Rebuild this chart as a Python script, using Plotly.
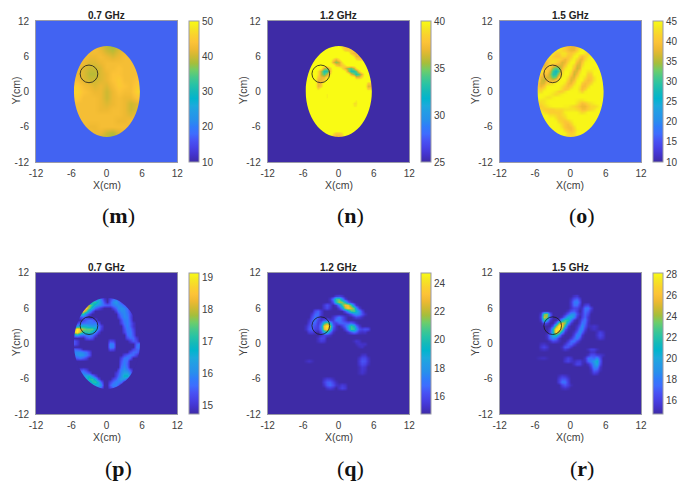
import plotly.graph_objects as go

# coarse grid (1 cm) for the smooth 0.7 GHz map, rows run from y=8 down to y=-8
X_COARSE = [-7, -6, -5, -4, -3, -2, -1, 0, 1, 2, 3, 4, 5, 6, 7]
Y_COARSE = [8, 7, 6, 5, 4, 3, 2, 1, 0, -1, -2, -3, -4, -5, -6, -7, -8]
# fine grid (0.5 cm) for the others
X_FINE = [v / 2 for v in range(-14, 15)]
Y_FINE = [v / 2 for v in range(16, -17, -1)]

Z_M = [
    [43, 43, 43, 43, 43, 43, 41, 39, 38, 39, 41, 43, 43, 43, 43],
    [43, 43, 43, 43, 43, 43, 42, 40, 39, 41, 42, 43, 43, 43, 43],
    [43, 43, 43, 43, 42, 42, 43, 42, 41, 42, 43, 43, 43, 43, 43],
    [43, 43, 43, 42, 41, 41, 42, 43, 43, 43, 43, 43, 43, 43, 43],
    [43, 43, 42, 41, 40, 40, 41, 43, 43, 44, 43, 43, 43, 43, 43],
    [43, 43, 42, 41, 39, 39, 41, 42, 44, 44, 43, 43, 43, 43, 43],
    [43, 43, 43, 41, 40, 40, 41, 42, 44, 45, 43, 43, 44, 44, 44],
    [45, 45, 45, 43, 42, 41, 42, 41, 43, 45, 44, 43, 45, 46, 46],
    [46, 46, 46, 44, 43, 42, 42, 40, 42, 44, 43, 43, 46, 47, 47],
    [45, 45, 45, 43, 43, 43, 42, 40, 42, 43, 42, 42, 44, 45, 45],
    [43, 43, 43, 43, 43, 43, 42, 41, 42, 43, 42, 40, 41, 42, 42],
    [43, 43, 43, 43, 43, 43, 42, 42, 43, 43, 42, 40, 41, 42, 42],
    [43, 43, 43, 43, 43, 43, 43, 43, 43, 43, 42, 41, 42, 42, 42],
    [43, 43, 43, 43, 43, 43, 43, 43, 43, 42, 42, 43, 43, 43, 43],
    [43, 43, 43, 43, 42, 42, 43, 43, 43, 43, 43, 42, 43, 43, 43],
    [43, 43, 43, 43, 43, 42, 42, 40, 39, 41, 42, 43, 43, 43, 43],
    [43, 43, 43, 43, 43, 42, 40, 39, 38, 39, 41, 43, 43, 43, 43],
]

# the maps below are mostly flat: {y: [(first x, [values every 0.5 cm]), ...]}
BASE_N = 41
ROWS_N = {
    7.5: [(0.5, [39, 38, 38, 39])],
    7.0: [(0.5, [40, 38.5, 38, 38, 38])],
    6.5: [(2.0, [38, 37, 37, 39])],
    6.0: [(2.5, [39, 37, 37, 38])],
    5.5: [(-1.0, [39, 37, 39]), (3.0, [39, 38, 38])],
    5.0: [(-1.0, [37, 35, 36, 39])],
    4.5: [(-0.5, [38, 37, 38, 39])],
    4.0: [(-3.0, [40, 36, 35, 38]), (0.5, [39, 37, 35, 34, 36, 39])],
    3.5: [(-3.5, [39, 36, 33, 33, 37]), (1.0, [40, 36, 33, 33, 34, 38])],
    3.0: [(-3.5, [39, 36, 34, 36, 39]), (2.0, [37, 35, 33, 34, 37])],
    2.5: [(-3.5, [38, 37, 37, 39]), (3.0, [37, 37, 39])],
    2.0: [(-3.5, [37, 37, 38])],
    1.5: [(-3.5, [37, 37.5]), (5.0, [38, 38])],
    1.0: [(-3.5, [37, 38]), (5.0, [36.5, 37])],
    0.5: [(-3.5, [39]), (5.0, [38.5, 39])],
    -0.5: [(-2.0, [39.5])],
    -1.0: [(-2.0, [39.5])],
    -1.5: [(3.0, [39.5])],
    -2.0: [(2.5, [39, 39])],
    -2.5: [(2.5, [39.5, 39.5])],
    -7.0: [(-1.0, [39.5, 38, 38, 39])],
    -7.5: [(-1.0, [38, 37, 37, 38])],
    -8.0: [(-1.0, [38, 37, 37, 38])],
}

BASE_O = 44.5
ROWS_O = {
    8.0: [(-1.0, [40, 39, 38, 38, 40])],
    7.5: [(-1.5, [43, 41, 39, 38, 38, 40, 43])],
    7.0: [(-2.5, [43, 43, 42, 41, 39, 38, 38, 41, 44])],
    6.5: [(-3.0, [43, 41, 41, 43, 43, 41, 40, 42, 44]), (2.5, [43, 41, 42])],
    6.0: [(-3.5, [43, 41, 40, 40, 42, 42, 40, 41, 44]), (1.5, [41, 39, 41, 43])],
    5.5: [(-4.0, [41, 42, 42, 42, 42, 40, 38, 40, 43]), (1.0, [42, 38, 38, 42, 44])],
    5.0: [(-4.5, [38, 39, 42, 43, 42, 40, 37, 38, 42]), (1.0, [39, 37, 40, 44])],
    4.5: [(-5.0, [40, 37, 39, 42, 39, 37, 37, 37, 40, 44]), (0.5, [42, 37, 37, 42])],
    4.0: [(-5.0, [41, 39, 40, 40, 34, 31, 33, 38, 43]), (0.5, [40, 36, 38, 44]), (4.0, [44])],
    3.5: [(-4.5, [41, 41, 37, 30, 27, 31, 41]), (0.0, [43, 37, 37, 42]), (3.0, [43, 43])],
    3.0: [(-5.0, [41, 39, 39, 35, 29, 29, 36, 43]), (0.0, [41, 36, 39, 44]), (3.0, [41, 41])],
    2.5: [(-5.0, [38, 37, 37, 36, 32, 33, 41]), (-0.5, [43, 38, 37, 42]), (2.5, [43, 40, 40, 43])],
    2.0: [(-5.0, [37, 36, 38, 38, 37, 40, 44]), (-0.5, [41, 37, 39, 44]), (2.5, [41, 39, 40, 43])],
    1.5: [(-5.5, [40, 37, 37, 41, 42, 43]), (-1.0, [43, 39, 38, 42]), (2.0, [41, 39, 40, 42])],
    1.0: [(-5.5, [40, 38, 40, 44]), (-1.5, [43, 41, 39, 41, 44]), (1.5, [43, 39, 39, 42])],
    0.5: [(-5.5, [42, 41, 43]), (-2.0, [44, 42, 40, 41, 44]), (1.5, [42, 39, 41])],
    0.0: [(-5.5, [43, 42]), (-3.0, [44, 43, 41, 41, 43]), (1.5, [43, 41, 44])],
    -0.5: [(-3.5, [44, 43, 42, 43, 44])],
    -1.0: [(-4.5, [44, 43, 43, 44])],
    -1.5: [(-5.5, [44, 43, 43, 44]), (1.0, [44, 43, 43, 44])],
    -2.0: [(-5.5, [42, 42, 43, 44]), (1.0, [43, 41, 39, 40, 42, 43, 44])],
    -2.5: [(-5.5, [41, 41, 42, 43, 44]), (-1.0, [44, 44, 43, 42, 41, 39, 38, 38, 40, 42, 42, 43])],
    -3.0: [(-5.0, [42, 41, 41, 41, 41, 42, 42, 42, 43, 43, 43, 43, 42, 41, 39, 39, 41, 42, 43])],
    -3.5: [(-4.5, [43, 42, 41, 41, 41, 41, 42, 44]), (1.5, [43, 42, 43])],
    -4.0: [(-3.5, [43, 43, 42, 41, 42, 43])],
    -4.5: [(-2.5, [43, 41, 41, 42, 44])],
    -5.0: [(-2.0, [42, 41, 40, 41, 43])],
    -5.5: [(-2.0, [44, 42, 40, 39, 41, 44])],
    -6.0: [(-1.5, [43, 40, 39, 39, 42])],
    -6.5: [(-1.0, [42, 40, 39, 41, 44])],
    -7.0: [(-0.5, [42, 41, 42])],
    -7.5: [(-1.0, [43, 42, 42, 42, 43])],
}

BASE_LOW = 14.75
ROWS_P = {
    7.5: [(-1.5, [16.5, 15.7, 15.0]), (0.5, [15.2, 15.6, 15.8, 15.4])],
    7.0: [(-2.5, [17.0, 17.2, 16.6, 16.0, 15.3]), (0.5, [15.4, 16.0, 16.2, 15.9, 15.3])],
    6.5: [(-3.5, [18.2, 17.9, 17.2, 16.5, 16.2, 15.9, 15.6, 15.5, 15.5, 15.8, 16.0, 16.0, 15.9, 15.5, 15.0])],
    6.0: [(-4.0, [18.6, 18.6, 17.6, 16.5, 15.7, 15.3, 15.0]), (1.0, [15.2, 15.6, 16.0, 16.1, 16.0, 15.6, 15.1])],
    5.5: [(-4.5, [18.3, 18.6, 17.6, 16.2, 15.4]), (1.5, [15.2, 15.7, 16.0, 16.0, 15.7, 15.2])],
    5.0: [(-5.0, [15.5, 16.8, 17.0, 15.8, 15.2]), (2.0, [15.3, 15.8, 16.0, 15.8, 15.3])],
    4.5: [(-4.5, [15.3, 15.5, 15.2]), (2.0, [15.1, 15.6, 16.0, 15.9, 15.3])],
    4.0: [(-4.0, [15.2, 15.5, 15.7, 15.6, 15.2]), (2.5, [15.3, 15.8, 15.9, 15.4])],
    3.5: [(-5.0, [15.2, 15.5, 15.6, 15.7, 15.8, 15.7, 15.8, 15.4]), (2.5, [15.2, 15.7, 15.9, 15.5, 15.0])],
    3.0: [(-5.5, [15.6, 16.0, 16.5, 16.7, 16.6, 16.3, 16.2, 16.3, 15.8, 15.2]), (3.0, [15.5, 15.9, 15.5, 15.0])],
    2.5: [(-5.5, [18.0, 19.1, 18.5, 17.8, 17.5, 17.5, 17.5, 16.8, 15.8, 15.1]), (3.0, [15.3, 15.8, 15.7, 15.2])],
    2.0: [(-5.5, [18.5, 19.1, 18.0, 17.0, 17.2, 17.3, 16.7, 15.9, 15.2]), (3.0, [15.2, 15.7, 15.8, 15.3])],
    1.5: [(-5.5, [16.0, 16.5, 15.8, 15.6, 15.8, 15.9, 15.7, 15.2]), (3.5, [15.6, 15.8, 15.4])],
    1.0: [(-3.5, [15.3, 15.5, 15.3]), (3.5, [15.3, 15.6, 15.6, 15.1])],
    0.5: [(-6.0, [15.4, 15.4, 15.1]), (0.5, [15.3, 15.2]), (4.0, [15.1, 15.5, 15.3])],
    0.0: [(-6.0, [15.4, 15.4, 15.1]), (0.5, [15.9, 15.8]), (5.0, [15.5, 15.8, 15.7])],
    -0.5: [(0.5, [15.9, 15.8]), (5.0, [15.6, 15.8, 15.7])],
    -1.0: [(-5.5, [15.5, 15.4, 15.2]), (0.5, [15.4, 15.3]), (4.5, [15.2, 15.5, 15.6, 15.5])],
    -1.5: [(-5.5, [15.9, 16.0, 16.0, 15.9, 15.7, 15.3]), (4.0, [15.3, 15.6, 15.6, 15.3])],
    -2.0: [(-5.5, [15.9, 16.0, 16.2, 16.1, 15.8, 15.4]), (3.0, [15.2, 15.5, 15.7, 15.6, 15.2])],
    -2.5: [(-5.5, [15.3, 15.5, 15.7, 15.5, 15.2]), (2.5, [15.2, 15.7, 15.8, 15.5])],
    -3.0: [(2.5, [15.4, 15.8, 15.6])],
    -3.5: [(2.5, [15.5, 15.9, 15.5])],
    -4.0: [(2.5, [15.7, 16.0, 15.6])],
    -4.5: [(-4.5, [15.3, 15.5, 15.2]), (2.0, [15.2, 15.9, 16.1, 15.9, 15.4])],
    -5.0: [(-4.5, [15.8, 15.9, 15.7, 15.4]), (1.5, [15.1, 15.4, 16.0, 16.4, 16.4, 15.8])],
    -5.5: [(-4.5, [15.6, 16.1, 16.5, 16.7, 16.0, 15.2]), (1.5, [15.2, 15.6, 16.1, 16.8, 16.8, 15.9])],
    -6.0: [(-4.0, [15.6, 16.4, 17.1, 17.2, 16.5, 15.3]), (1.0, [15.2, 15.5, 15.9, 16.3, 16.2, 15.5])],
    -6.5: [(-3.0, [16.3, 17.0, 17.2, 16.6, 15.5]), (0.5, [15.2, 15.6, 15.9, 15.9, 15.7])],
    -7.0: [(-2.5, [16.0, 16.5, 16.5, 16.0]), (0.5, [15.5, 15.9, 15.9, 15.5])],
    -7.5: [(-2.0, [15.8, 15.8, 15.4]), (0.5, [15.2, 15.5, 15.4])],
}
ROWS_Q = {
    8.0: [(-0.5, [15.3, 15.5, 15.2])],
    7.5: [(-1.5, [15.2, 17.0, 20.5, 21.0, 18.0, 15.5])],
    7.0: [(-1.5, [15.0, 16.0, 20.0, 22.0, 21.5, 19.5, 16.5, 15.2])],
    6.5: [(-2.5, [15.4, 16.2, 15.5]), (-0.5, [15.3, 17.5, 20.5, 23.0, 23.0, 20.5, 17.0, 15.2])],
    6.0: [(-2.5, [15.4, 16.0, 15.3]), (0.0, [15.6, 18.0, 22.0, 23.5, 22.5, 21.0, 18.0, 15.5])],
    5.5: [(-4.0, [16.0, 16.6, 15.5]), (1.0, [16.0, 18.0, 20.5, 21.0, 19.5, 17.8, 15.8])],
    5.0: [(-4.5, [15.4, 16.6, 16.8, 15.5]), (1.5, [15.2, 16.0, 17.2, 18.0, 17.5, 16.2, 15.2])],
    4.5: [(-4.5, [16.0, 17.0, 16.5, 15.2]), (-1.0, [15.3, 16.2, 17.0, 16.2, 15.3]), (2.5, [15.3, 15.8, 15.6, 15.1])],
    4.0: [(-5.0, [15.2, 16.4, 17.0, 15.8]), (-3.0, [15.3, 16.0, 16.2, 15.3]), (-1.0, [15.5, 17.0, 17.2, 16.3, 15.5])],
    3.5: [(-5.0, [15.6, 16.6, 16.6, 15.5]), (-3.0, [16.5, 20.0, 21.5, 19.0, 16.0]),
          (-0.5, [15.6, 16.5, 16.6, 16.5, 16.3, 16.6, 15.9, 15.2])],
    3.0: [(-5.5, [15.1, 16.0, 16.6, 16.1, 15.6]), (-3.0, [17.5, 23.0, 24.7, 22.0, 16.5, 15.2]),
          (0.5, [15.5, 16.5, 18.0, 20.5, 19.5, 17.0, 15.5])],
    2.5: [(-5.5, [15.2, 16.3, 16.6, 15.7, 15.6]), (-3.0, [17.0, 22.5, 24.0, 20.5, 16.0, 15.1]),
          (1.0, [15.6, 17.5, 20.8, 20.5, 18.3, 16.2, 15.8, 16.2, 16.0])],
    2.0: [(-5.0, [15.6, 15.7, 15.2]), (-3.0, [15.8, 18.5, 19.5, 17.0, 15.2]),
          (1.5, [15.3, 16.2, 17.0, 16.5, 15.4, 15.2, 15.3])],
    1.5: [(-3.0, [15.3, 15.8, 15.6, 15.2])],
    1.0: [(-3.5, [15.2, 15.9, 15.8])],
    0.5: [(-3.5, [15.1, 15.6, 15.4]), (2.5, [15.0, 15.4, 15.2])],
    0.0: [(3.0, [15.0, 15.3, 15.2, 15.2])],
    -0.5: [(3.5, [15.0, 15.2])],
    -2.0: [(4.0, [15.2, 15.3])],
    -2.5: [(3.5, [15.2, 15.9, 15.9, 15.2])],
    -3.0: [(-5.5, [15.0, 15.3, 15.0]), (3.5, [15.4, 16.3, 16.2, 15.3])],
    -3.5: [(3.5, [15.3, 16.0, 15.8, 15.1])],
    -4.0: [(3.5, [15.0, 15.5, 15.3])],
    -4.5: [(3.5, [15.0, 15.4, 15.2])],
    -5.0: [(3.5, [15.0, 15.3, 15.0])],
    -6.0: [(-2.5, [15.2, 15.6, 15.5, 15.1])],
    -6.5: [(-2.5, [15.6, 16.4, 16.5, 15.8, 15.1])],
    -7.0: [(-2.5, [15.3, 16.3, 16.7, 16.2, 15.3]), (0.0, [15.1, 15.5, 15.3])],
    -7.5: [(-2.0, [15.3, 15.6, 15.3]), (0.0, [15.3, 15.8, 15.5])],
}
ROWS_R = {
    8.0: [(0.5, [15.3, 15.6])],
    7.5: [(0.0, [15.3, 16.6, 17.2, 15.8])],
    7.0: [(0.0, [15.6, 17.8, 18.3, 16.5])],
    6.5: [(0.0, [15.5, 17.5, 17.5, 15.8]), (2.5, [15.8, 16.2])],
    6.0: [(0.0, [15.4, 16.3, 16.2, 15.2]), (2.0, [15.3, 17.5, 17.8, 16.0])],
    5.5: [(-0.5, [15.3, 16.5, 17.0, 16.0]), (2.0, [15.6, 17.5, 17.0, 15.3])],
    5.0: [(-5.0, [15.5, 23.0, 24.5, 17.0]), (-1.0, [15.4, 17.0, 18.8, 19.0, 16.5, 15.2]), (2.0, [15.7, 17.3, 16.3])],
    4.5: [(-5.0, [16.0, 25.0, 24.0, 17.0]), (-1.5, [15.3, 17.5, 20.0, 20.5, 18.5, 15.8]), (2.0, [16.0, 17.2, 15.6])],
    4.0: [(-5.0, [15.5, 22.0, 19.5, 15.6]), (-2.0, [16.0, 19.5, 22.5, 22.0, 18.0, 15.5]), (1.5, [15.4, 16.8, 17.8, 15.6])],
    3.5: [(-4.5, [16.5, 15.8]), (-2.5, [17.0, 23.5, 25.5, 24.0, 19.0, 15.7]), (1.5, [15.8, 17.8, 17.4, 15.3])],
    3.0: [(-3.0, [16.5, 23.0, 28.0, 27.0, 21.0, 16.0]), (1.0, [15.3, 16.8, 18.7, 16.8, 15.2]), (3.5, [15.2, 15.5, 15.2])],
    2.5: [(-3.5, [15.8, 21.0, 27.5, 28.0, 24.0, 17.0, 15.2]), (1.0, [15.7, 18.0, 18.5, 16.0]), (3.5, [15.1, 15.4, 15.1])],
    2.0: [(-3.5, [16.3, 21.0, 27.5, 24.5, 19.0, 15.5]), (0.5, [15.3, 16.8, 18.8, 17.2, 15.2]), (4.5, [15.2, 16.0, 15.4])],
    1.5: [(-4.0, [15.3, 17.5, 20.5, 22.0, 18.5, 15.5]), (0.5, [16.0, 18.3, 18.0, 15.6]), (4.5, [15.4, 16.3, 15.7])],
    1.0: [(-4.0, [15.2, 17.3, 18.8, 17.8, 15.6]), (0.0, [15.5, 17.0, 18.3, 16.5, 15.1]), (4.5, [15.1, 15.8, 15.4])],
    0.5: [(-3.5, [15.3, 16.3, 16.0, 15.2]), (-0.5, [15.6, 17.3, 17.8, 16.3, 15.1])],
    0.0: [(-5.0, [15.2, 15.4, 15.0]), (-1.0, [15.5, 16.8, 17.3, 16.0, 15.0])],
    -0.5: [(-5.0, [15.6, 16.2, 15.6]), (-1.5, [15.2, 16.8, 16.8, 15.6])],
    -1.0: [(-5.0, [15.2, 15.5, 15.2]), (-1.5, [15.0, 15.8, 15.3]), (3.0, [15.2, 16.0, 15.9, 15.2])],
    -1.5: [(3.5, [15.4, 15.4])],
    -2.0: [(3.0, [15.3, 16.5, 16.5, 15.8, 15.6, 15.2])],
    -2.5: [(-5.5, [15.0, 15.2, 15.3, 15.0]), (-1.0, [15.3, 16.0, 15.5]), (2.5, [15.3, 17.5, 17.7, 17.2, 18.7, 16.5])],
    -3.0: [(-1.0, [15.6, 16.2, 15.5]), (0.5, [15.2, 15.7, 15.9, 15.2]), (2.5, [15.2, 17.2, 18.2, 19.2, 20.8, 17.0])],
    -3.5: [(0.5, [15.3, 16.2, 16.1, 15.2]), (3.0, [15.3, 16.7, 18.7, 20.2, 16.5])],
    -4.0: [(3.5, [15.8, 18.2, 18.4, 15.5])],
    -4.5: [(3.5, [15.2, 17.2, 16.8, 15.2])],
    -5.0: [(3.5, [15.0, 16.0, 15.6])],
    -5.5: [(-2.0, [15.2, 15.8, 15.6, 15.1])],
    -6.0: [(-2.0, [15.8, 16.8, 16.8, 15.7])],
    -6.5: [(-2.0, [15.9, 17.7, 17.7, 16.0])],
    -7.0: [(-1.5, [16.0, 16.8, 16.0, 15.1])],
    -7.5: [(-1.5, [15.2, 15.5, 15.2])],
}

TITLES = ["0.7 GHz", "1.2 GHz", "1.5 GHz", "0.7 GHz", "1.2 GHz", "1.5 GHz"]
LABELS = ["(<b>m</b>)", "(<b>n</b>)", "(<b>o</b>)", "(<b>p</b>)", "(<b>q</b>)", "(<b>r</b>)"]
RANGES = [(10, 50), (25, 40), (10, 45), (14.75, 19.15), (14.75, 24.75), (14.75, 28.15)]
CB_TICKS = [
    [10, 20, 30, 40, 50],
    [25, 30, 35, 40],
    [10, 15, 20, 25, 30, 35, 40, 45],
    [15, 16, 17, 18, 19],
    [16, 18, 20, 22, 24],
    [16, 18, 20, 22, 24, 26, 28],
]
BACKGROUNDS = ["#4263f2", "#3e2ba6", "#4263f2", "#3e2ba6", "#3e2ba6", "#3e2ba6"]
TICKS = [-12, -6, 0, 6, 12]
TICK_TEXT = ["-12", "-6", "0", "6", "12"]

PARULA = [
    [0.00, "#3e2ba6"], [0.05, "#4333cb"], [0.10, "#4741e5"], [0.15, "#4852f4"],
    [0.20, "#3e6dfe"], [0.25, "#307cfa"], [0.30, "#2791eb"], [0.35, "#249be6"],
    [0.40, "#1caadc"], [0.45, "#02b4cd"], [0.50, "#14b9b9"], [0.55, "#28c3a5"],
    [0.60, "#46c88c"], [0.65, "#6ecd69"], [0.70, "#a5be3c"], [0.75, "#cdb932"],
    [0.80, "#eeb932"], [0.85, "#fcc337"], [0.90, "#fad22d"], [0.95, "#f5e623"],
    [1.00, "#f9fb14"],
]

# the page body keeps its default 8 px margin, so all positions are taken relative to that
PAGE_MARGIN = 8
W, H = 686 - PAGE_MARGIN, 485 - PAGE_MARGIN
PLOT_X = [(36, 177.3), (267.7, 409.3), (499.7, 641)]
CBAR_X = [189, 420.7, 652.7]
PLOT_Y = [(21, 162), (272.7, 414)]
LABEL_X = [118, 350, 582]
LABEL_Y = [215, 468]

GREY = "#404040"
AXIS_LINE = "#9a9aa8"


def fill_grid(base, rows):
    z = [[base] * len(X_FINE) for _ in Y_FINE]
    for y, segments in rows.items():
        r = Y_FINE.index(y)
        for x_start, values in segments:
            c = X_FINE.index(x_start)
            z[r][c:c + len(values)] = values
    return z


def ellipse_mask(cx=0.05, cy=0, rx=5.6, ry=7.75):
    # rectangle with an elliptical hole, hides everything outside the phantom
    k = 0.5523
    return (
        "M -12 -12 H 12 V 12 H -12 Z "
        f"M {cx - rx} {cy} "
        f"C {cx - rx} {cy + k * ry} {cx - k * rx} {cy + ry} {cx} {cy + ry} "
        f"C {cx + k * rx} {cy + ry} {cx + rx} {cy + k * ry} {cx + rx} {cy} "
        f"C {cx + rx} {cy - k * ry} {cx + k * rx} {cy - ry} {cx} {cy - ry} "
        f"C {cx - k * rx} {cy - ry} {cx - rx} {cy - k * ry} {cx - rx} {cy} Z"
    )


def px_x(v):
    return (v - PAGE_MARGIN) / W


def px_y(v):
    return 1 - (v - PAGE_MARGIN) / H


MAPS = [
    (X_COARSE, Y_COARSE, Z_M),
    (X_FINE, Y_FINE, fill_grid(BASE_N, ROWS_N)),
    (X_FINE, Y_FINE, fill_grid(BASE_O, ROWS_O)),
    (X_FINE, Y_FINE, fill_grid(BASE_LOW, ROWS_P)),
    (X_FINE, Y_FINE, fill_grid(BASE_LOW, ROWS_Q)),
    (X_FINE, Y_FINE, fill_grid(BASE_LOW, ROWS_R)),
]

fig = go.Figure()
shapes = []
annotations = []

for i in range(6):
    col, row = i % 3, i // 3
    suffix = "" if i == 0 else str(i + 1)
    x0, x1 = PLOT_X[col]
    y0, y1 = PLOT_Y[row]
    zmin, zmax = RANGES[i]
    xs, ys, z = MAPS[i]

    fig.add_trace(go.Heatmap(
        x=xs,
        y=ys[::-1],
        z=z[::-1],
        zmin=zmin,
        zmax=zmax,
        zsmooth="best",
        colorscale=PARULA,
        xaxis="x" + suffix,
        yaxis="y" + suffix,
        hoverinfo="skip",
        colorbar=dict(
            x=px_x(CBAR_X[col]),
            xanchor="left",
            xpad=0,
            ypad=0,
            y=px_y(y1),
            yanchor="bottom",
            len=(y1 - y0) / H,
            lenmode="fraction",
            thickness=9.5,
            thicknessmode="pixels",
            tickvals=CB_TICKS[i],
            ticks="",
            tickfont=dict(family="Liberation Sans", size=10, color=GREY),
            outlinecolor=AXIS_LINE,
            outlinewidth=1,
        ),
    ))

    axis = dict(
        range=[-12, 12],
        tickvals=TICKS,
        ticktext=TICK_TEXT,
        ticks="outside",
        tickcolor="rgba(0,0,0,0)",
        showgrid=False,
        zeroline=False,
        showline=True,
        mirror=True,
        automargin=False,
        linecolor=AXIS_LINE,
        linewidth=1,
        tickfont=dict(family="Liberation Sans", size=10, color=GREY),
    )
    fig.layout["xaxis" + suffix] = dict(
        axis,
        ticklen=2,
        domain=[px_x(x0), px_x(x1)],
        anchor="y" + suffix,
    )
    fig.layout["yaxis" + suffix] = dict(
        axis,
        ticklen=4,
        domain=[px_y(y1), px_y(y0)],
        anchor="x" + suffix,
    )

    # background of the scan, the heatmap only covers the central part
    shapes.append(dict(
        type="rect", xref="x" + suffix, yref="y" + suffix, x0=-12, x1=12, y0=-12, y1=12,
        fillcolor=BACKGROUNDS[i], line_width=0, layer="below",
    ))
    if i < 4:
        shapes.append(dict(
            type="path", xref="x" + suffix, yref="y" + suffix, path=ellipse_mask(),
            fillcolor=BACKGROUNDS[i], fillrule="evenodd", line_width=0, layer="above",
        ))
    # tumour position
    shapes.append(dict(
        type="circle", xref="x" + suffix, yref="y" + suffix, x0=-4.5, x1=-1.5, y0=1.5, y1=4.5,
        line=dict(color="#1a1a1a", width=0.8), layer="above",
    ))

    annotations.append(dict(
        text=f"<b>{TITLES[i]}</b>", xref="paper", yref="paper",
        x=px_x((x0 + x1) / 2), y=px_y(y0 + 2), xanchor="center", yanchor="bottom",
        showarrow=False, font=dict(family="Liberation Sans", size=10, color="#222222"),
    ))
    annotations.append(dict(
        text="X(cm)", xref="paper", yref="paper",
        x=px_x((x0 + x1) / 2), y=px_y(y1 + 23), xanchor="center", yanchor="middle",
        showarrow=False, font=dict(family="Liberation Sans", size=10.5, color=GREY),
    ))
    annotations.append(dict(
        text="Y(cm)", xref="paper", yref="paper", textangle=-90,
        x=px_x(max(x0 - 24, 16)), y=px_y((y0 + y1) / 2 - 1), xanchor="center", yanchor="middle",
        showarrow=False, font=dict(family="Liberation Sans", size=10.5, color=GREY),
    ))
    annotations.append(dict(
        text=LABELS[i], xref="paper", yref="paper",
        x=px_x(LABEL_X[col]), y=px_y(LABEL_Y[row]), xanchor="center", yanchor="middle",
        showarrow=False, font=dict(family="Liberation Serif", size=22, color="#111111"),
    ))

fig.update_layout(
    width=W,
    height=H,
    margin=dict(l=0, r=0, t=0, b=0),
    paper_bgcolor="white",
    plot_bgcolor="white",
    showlegend=False,
    shapes=shapes,
    annotations=annotations,
)

fig.write_html("out.html")
